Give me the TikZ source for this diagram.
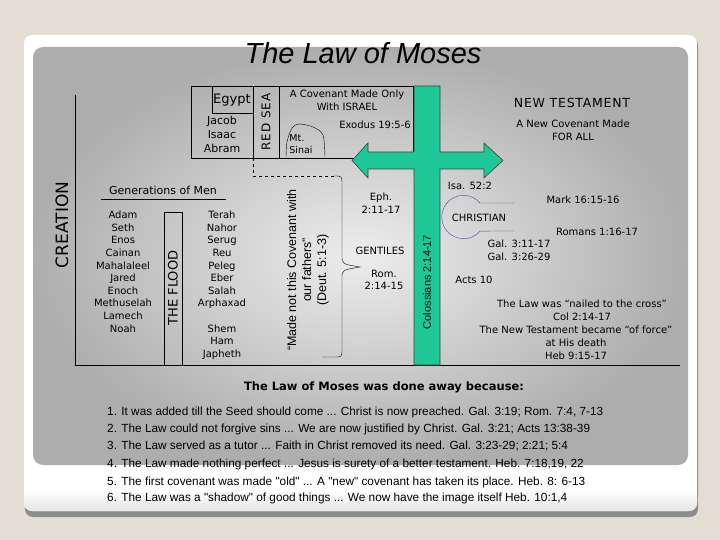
\documentclass[tikz,border=0pt]{standalone}
\usepackage{fontspec}
\setmainfont{DejaVu Sans}
\newfontfamily\arialfont{Liberation Sans}
\usetikzlibrary{positioning}

\definecolor{slidebg}{RGB}{227,221,211}
\definecolor{crossgreen}{RGB}{30,200,150}
\definecolor{keyblue}{RGB}{70,70,160}

\tikzset{
  txt/.style={inner sep=0pt, font=\fontsize{10}{12.6}\selectfont},
  gen/.style={anchor=base, inner sep=0pt, font=\fontsize{10}{12}\selectfont},
  vlabel/.style={inner sep=0pt, rotate=90},
  reason/.style={anchor=west, inner sep=0pt, font=\arialfont\fontsize{11.8}{13}\selectfont}
}

\begin{document}
\begin{tikzpicture}[x=1pt,y=-1pt]
\useasboundingbox (0,0) rectangle (720,540);

% slide
\fill[slidebg] (0,0) rectangle (720,540);
\fill[black!45, rounded corners=8] (25,37) rectangle (698,517);
\fill[white, rounded corners=8] (24,35) rectangle (697,511);
\shade[top color=white, bottom color=black!10, rounded corners=8] (24,490) rectangle (697,511);
\shade[rounded corners=10, inner color=black!7, outer color=black!32] (33,47) rectangle (688,465);

\node[font=\arialfont\itshape\fontsize{29}{30}\selectfont] (title) at (363,53) {The Law of Moses};

% time line frame
\node[vlabel, font=\fontsize{17}{18}\selectfont] (creation) at (62,225) {CREATION};
\draw (75,95) -- (75,365) -- (680,365);

% old covenant box
\draw (191,86) rectangle (413,158);
\draw (212,86) -- (212,113) -- (253,113);
\draw (253,86) -- (253,158) (279,86) -- (279,158);
\node[font=\fontsize{13}{14}\selectfont] (egypt) at (232,100) {Egypt};
\node[txt, align=center, font=\fontsize{11}{14}\selectfont] (fathers) at (222,134) {Jacob\\Isaac\\Abram};
\node[vlabel, font=\fontsize{12}{12}\selectfont\addfontfeature{LetterSpace=8}] (redsea) at (266,122) {RED SEA};
\node[txt, align=center] (israel) at (347,100) {A Covenant Made Only\\With ISRAEL};
\node[txt, anchor=east] (exodus) at (411,125) {Exodus 19:5-6};
\draw plot[smooth] coordinates {(286,157) (287,142) (292,128) (299,124) (313,127) (323,135) (325,157)};
\node[txt, align=left, font=\fontsize{9.5}{12}\selectfont] (sinai) at (301,144) {Mt.\\Sinai};

% generations
\node[font=\fontsize{11}{12}\selectfont] (gens) at (163,190) {Generations of Men};
\draw (101,199) -- (226,199);
\foreach \nm [count=\i] in {Adam,Seth,Enos,Cainan,Mahalaleel,Jared,Enoch,Methuselah,Lamech,Noah}
  \node[gen] (pre\i) at (123,206+12.6*\i) {\nm};
\foreach \nm [count=\i] in {Terah,Nahor,Serug,Reu,Peleg,Eber,Salah,Arphaxad}
  \node[gen] (post\i) at (222,206+12.6*\i) {\nm};
\foreach \nm [count=\i from 10] in {Shem,Ham,Japheth}
  \node[gen] (post\i) at (222,206+12.6*\i) {\nm};
\draw (164,365) -- (164,212) -- (182,212) -- (182,365);
\node[vlabel, font=\fontsize{13}{13}\selectfont] (flood) at (173,288) {THE FLOOD};

% made not with our fathers
\coordinate (seafoot) at (253,158);
\coordinate (bracetop) at (334,176);
\coordinate (bracetip) at (360,267);
\draw[dashed] (seafoot) -- (253,176) -- (bracetop);
\draw (bracetop) .. controls (342,176) .. (342,184) -- (342,256)
  .. controls (342,264) .. (bracetip) .. controls (342,270) .. (342,278)
  -- (342,349) .. controls (342,357) .. (334,357) -- (322,357);
\node[vlabel, align=center, font=\arialfont\fontsize{12.5}{15}\selectfont] (notfathers) at (308,270)
  {“Made not this Covenant with\\our fathers”\\(Deut. 5:1-3)};

% gentiles
\node[txt, align=center] (eph) at (381,203) {Eph.\\2:11-17};
\node[txt] (gentiles) at (380,251) {GENTILES};
\node[txt, align=center] (rom) at (384,280) {Rom.\\2:14-15};

% the cross
\filldraw[fill=crossgreen, draw=black!75, line width=0.6pt]
  (414,86) -- (440,86) -- (440,152) -- (484,152) -- (484,143) -- (503,160.5)
  -- (484,178) -- (484,169) -- (440,169) -- (440,365) -- (414,365) -- (414,169)
  -- (368,169) -- (368,178) -- (352,160.5) -- (368,143) -- (368,152) -- (414,152) -- cycle;
\node[vlabel, font=\arialfont\fontsize{11}{12}\selectfont] (col) at (427,282) {Colossians 2:14-17};

% new testament
\node[font=\fontsize{12.5}{13}\selectfont\addfontfeature{LetterSpace=6}] (nt) at (572,103) {NEW TESTAMENT};
\node[txt, align=center] (forall) at (573,130) {A New Covenant Made\\FOR ALL};
\node[txt] (isa) at (470,186) {Isa. 52:2};
\coordinate (keytop) at (514,203);
\coordinate (keybot) at (514,231);
\draw[keyblue] (keytop) -- (480,203) arc[start angle=-40.3, end angle=-319.7, radius=21.7] -- (keybot);
\node[txt] (christian) at (479,218) {CHRISTIAN};
\node[txt] (mark) at (583,200) {Mark 16:15-16};
\node[txt] (romans) at (597,232) {Romans 1:16-17};
\node[txt, align=left] (gal) at (519,250.5) {Gal. 3:11-17\\Gal. 3:26-29};
\node[txt] (acts) at (474,280) {Acts 10};
\node[txt, align=center, font=\fontsize{10}{13}\selectfont] (nailed) at (582,310.5) {The Law was “nailed to the cross”\\Col 2:14-17};
\node[txt, align=center, font=\fontsize{10}{13}\selectfont] (force) at (576,343) {The New Testament became “of force”\\at His death\\Heb 9:15-17};

% reasons
\node[font=\bfseries\fontsize{11.5}{13}\selectfont] (because) at (384,387) {The Law of Moses was done away because:};
\foreach \txt/\yy [count=\i] in {
  {1. It was added till the Seed should come ... Christ is now preached. Gal. 3:19; Rom. 7:4, 7-13}/412,
  {2. The Law could not forgive sins ... We are now justified by Christ. Gal. 3:21; Acts 13:38-39}/429,
  {3. The Law served as a tutor ... Faith in Christ removed its need. Gal. 3:23-29; 2:21; 5:4}/446,
  {4. The Law made nothing perfect ... Jesus is surety of a better testament. Heb. 7:18,19, 22}/464,
  {5. The first covenant was made "old" ... A "new" covenant has taken its place. Heb. 8: 6-13}/482,
  {6. The Law was a "shadow" of good things ... We now have the image itself Heb. 10:1,4}/498}
  \node[reason] (reason\i) at (107,\yy) {\txt};

\end{tikzpicture}
\end{document}
